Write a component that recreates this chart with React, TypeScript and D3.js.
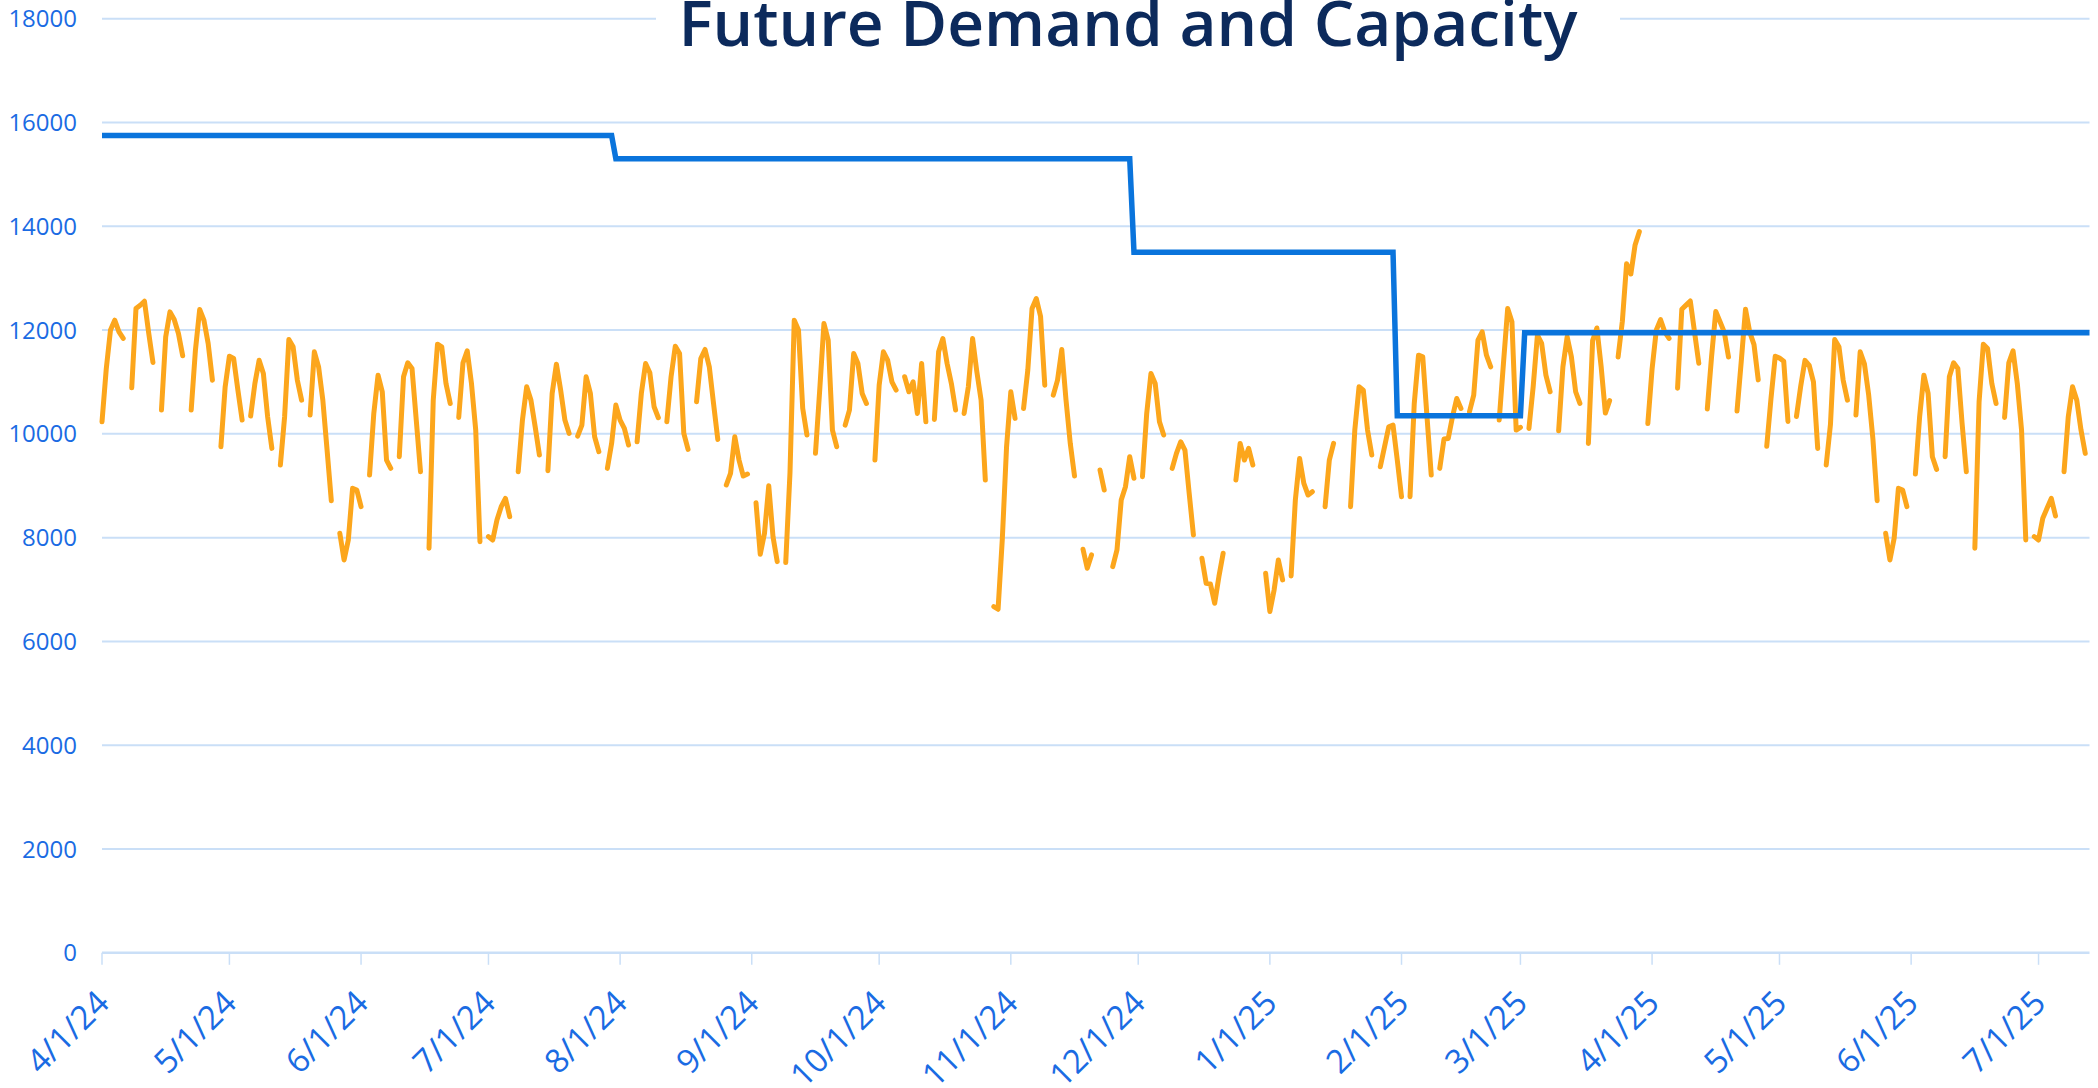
import React from 'react'
import * as d3 from 'd3'

const chartTitle = 'Future Demand and Capacity'
const firstDay = '2024-04-01'
const lastDay = '2025-07-13'

// daily demand, one row per week (Mon..Sun), null = no value
// 2024-04-01 .. 2024-06-30
const demandAprJun24 = [
  10233, 11250, 12000, 12190, 11966, 11840, null,
  10888, 12415, 12479, 12556, 11940, 11375, null,
  10458, 11870, 12351, 12203, 11934, 11504, null,
  10458, 11613, 12396, 12190, 11741, 11035, null,
  9752, 10907, 11497, 11452, 10843, 10265, null,
  10342, 10971, 11420, 11164, 10330, 9720, null,
  9399, 10330, 11818, 11677, 11035, 10650, null,
  10362, 11581, 11292, 10650, 9688, 8712, null,
  8084, 7570, 7955, 8950, 8918, 8597, null,
  9207, 10394, 11131, 10810, 9495, 9335, null,
  9559, 11100, 11369, 11260, 10265, 9271, null,
  7795, 10650, 11728, 11677, 10971, 10586, null,
  10317, 11369, 11600, 10971, 10073, 7923, null,
]
// 2024-07-01 .. 2024-09-29
const demandJulSep24 = [
  8020, 7955, 8340, 8597, 8757, 8404, null,
  9271, 10265, 10907, 10650, 10137, 9592, null,
  9290, 10779, 11343, 10843, 10265, 10009, null,
  9957, 10169, 11100, 10778, 9944, 9656, null,
  9335, 9816, 10554, 10265, 10105, 9784, null,
  9848, 10779, 11356, 11176, 10522, 10310, null,
  10233, 11100, 11690, 11549, 10009, 9700, null,
  10618, 11452, 11626, 11292, 10586, 9893, null,
  9014, 9239, 9944, 9495, 9187, 9226, null,
  8674, 7680, 8084, 9001, 8020, 7538, null,
  7519, 9250, 12190, 12000, 10490, 9977, null,
  9624, 10843, 12126, 11806, 10073, 9752, null,
  10169, 10458, 11549, 11356, 10779, 10586, null,
]
// 2024-09-30 .. 2024-12-29
const demandOctDec24 = [
  9495, 10938, 11581, 11420, 11003, 10843, null,
  11100, 10811, 11003, 10394, 11356, 10233, null,
  10278, 11581, 11837, 11356, 10971, 10458, null,
  10394, 10907, 11837, 11196, 10650, 9110, null,
  6672, 6620, 7975, 9752, 10811, 10298, null,
  10490, 11228, 12415, 12607, 12267, 10938, null,
  10747, 11035, 11626, 10650, 9816, 9187, null,
  7776, 7410, 7667, null, 9303, 8918, null,
  7442, 7763, 8725, 8982, 9560, 9143, null,
  9175, 10394, 11163, 10971, 10233, 9977, null,
  9335, 9624, 9848, 9688, 8854, 8051, null,
  7603, 7121, 7108, 6736, 7250, 7699, null,
  null, 9110, 9816, 9495, 9720, 9399, null,
]
// 2024-12-30 .. 2025-03-30
const demandJanMar25 = [
  null, 7314, 6576, 6993, 7571, 7186, null,
  7263, 8725, 9527, 9046, 8821, 8885, null,
  null, 8597, 9495, 9816, null, null, null,
  8597, 10073, 10907, 10843, 10073, 9592, null,
  9367, 9752, 10137, 10169, 9495, 8789, null,
  8789, 10586, 11516, 11484, 10330, 9207, null,
  9335, 9900, 9912, 10330, 10682, 10490, null,
  10426, 10747, 11806, 11966, 11516, 11292, null,
  10265, 11356, 12415, 12158, 10073, 10124, null,
  10105, 10907, 11902, 11741, 11131, 10811, null,
  10060, 11292, 11870, 11484, 10811, 10586, null,
  9816, 11800, 12040, 11300, 10400, 10640, null,
  11480, 12170, 13280, 13080, 13640, 13896, null,
]
// 2025-03-31 .. 2025-06-29
const demandAprJun25 = [
  10200, 11250, 12000, 12200, 11960, 11840, null,
  10880, 12400, 12480, 12560, 11960, 11360, null,
  10480, 11480, 12360, 12160, 11960, 11480, null,
  10440, 11400, 12400, 11960, 11720, 11040, null,
  9760, 10680, 11496, 11460, 11400, 10240, null,
  10336, 10920, 11416, 11320, 11000, 9720, null,
  9400, 10180, 11816, 11680, 11035, 10650, null,
  10362, 11581, 11350, 10750, 9900, 8712, null,
  8084, 7570, 7987, 8950, 8918, 8597, null,
  9226, 10330, 11131, 10779, 9559, 9316, null,
  9559, 11100, 11369, 11260, 10201, 9271, null,
  7795, 10618, 11728, 11645, 10971, 10586, null,
  10317, 11369, 11600, 10971, 10073, 7955, null,
]
// 2025-06-30 .. 2025-07-12
const demandJul25 = [
  8020, 7955, 8372, 8565, 8757, 8417, null,
  9271, 10330, 10907, 10650, 10073, 9624,
]

// capacity steps: level holds from its start date
const capacityStarts = ['2024-04-01', '2024-07-31', '2024-11-30', '2025-01-31', '2025-03-02']
const capacityLevels = [15750, 15300, 13500, 10350, 11950]

const yTicks = [0, 2000, 4000, 6000, 8000, 10000, 12000, 14000, 16000, 18000]

const W = 2098
const H = 1088
const plot = { left: 102, right: 2089.5, top: 18.7, bottom: 952.8 }

export default function App() {
  const parse = d3.utcParse('%Y-%m-%d')
  const start = parse(firstDay) as Date
  const end = parse(lastDay) as Date

  const x = d3.scaleUtc().domain([start, end]).range([plot.left, plot.right])
  const y = d3.scaleLinear().domain([0, 18000]).range([plot.bottom, plot.top])

  const demandValues = [
    ...demandAprJun24, ...demandJulSep24, ...demandOctDec24,
    ...demandJanMar25, ...demandAprJun25, ...demandJul25,
  ]
  const demand = demandValues.map((v, i) => ({ date: d3.utcDay.offset(start, i), value: v }))

  const capDates = capacityStarts.map(s => parse(s) as Date)
  const capacity = d3.utcDay.range(start, d3.utcDay.offset(end, 1)).map(date => {
    const k = d3.bisectRight(capDates, date) - 1
    return { date, value: capacityLevels[k] }
  })

  type Pt = { date: Date; value: number | null }
  const line = d3.line<Pt>()
    .defined(d => d.value != null)
    .x(d => x(d.date))
    .y(d => y(d.value as number))

  const monthTicks = x.ticks(d3.utcMonth.every(1) as d3.TimeInterval)
  const fmt = d3.utcFormat('%-m/%-d/%y')
  const gridColor = '#cadff7'
  const labelColor = '#1a6be3'

  return (
    <svg width={W} height={H} viewBox={`0 0 ${W} ${H}`}
      style={{ position: 'absolute', left: 0, top: 0, display: 'block', background: '#fff' }}
      fontFamily="'Open Sans', 'Noto Sans', sans-serif">
      <rect width={W} height={H} fill="#fff" />

      {yTicks.filter(t => t > 0).map(t => (
        <line key={t} x1={plot.left} x2={plot.right} y1={y(t)} y2={y(t)}
          stroke={gridColor} strokeWidth={2} />
      ))}
      <line x1={plot.left} x2={plot.right} y1={y(0)} y2={y(0)} stroke={gridColor} strokeWidth={2.5} />
      {monthTicks.map(t => (
        <line key={+t} x1={x(t)} x2={x(t)} y1={y(0)} y2={y(0) + 12} stroke={gridColor} strokeWidth={1.5} />
      ))}

      {yTicks.map(t => (
        <text key={t} x={77} y={y(t) + 8.5} textAnchor="end" fontSize={24} fill={labelColor}>{t}</text>
      ))}
      {monthTicks.map(t => (
        <text key={+t} transform={`translate(${x(t) + 9},${1005}) rotate(-45)`}
          textAnchor="end" fontSize={33} fill={labelColor}>{fmt(t)}</text>
      ))}

      <path d={line(demand) ?? ''} fill="none" stroke="#fca61c" strokeWidth={5}
        strokeLinejoin="round" strokeLinecap="round" />
      <path d={line(capacity) ?? ''} fill="none" stroke="#0a74dc" strokeWidth={5.5}
        strokeLinejoin="miter" strokeLinecap="butt" />

      <rect x={656} y={0} width={964} height={32} fill="#fff" />
      <text x={1128} y={45.7} textAnchor="middle" fontSize={64} fontWeight={600} fill="#0c2a5c">
        {chartTitle}
      </text>
    </svg>
  )
}
